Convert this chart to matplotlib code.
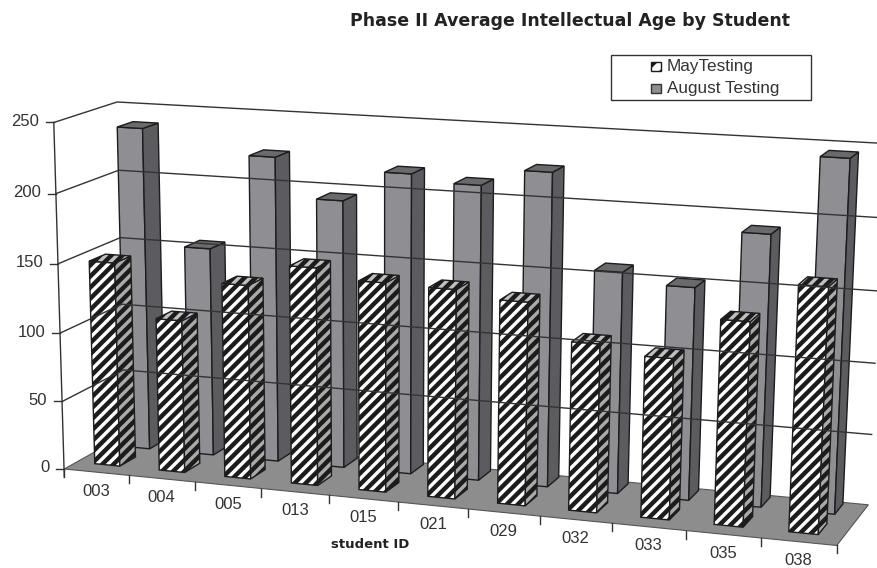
import numpy as np
import matplotlib
matplotlib.use("Agg")
import matplotlib.pyplot as plt
from matplotlib.patches import Polygon, Rectangle

plt.rcParams['font.family'] = ['Liberation Sans', 'DejaVu Sans']

students = ["003", "004", "005", "013", "015", "021", "029", "032", "033", "035", "038"]
may_testing = [149, 111, 140, 156, 149, 148, 143, 118, 112, 141, 168]
august_testing = [237, 153, 222, 194, 216, 211, 223, 157, 150, 190, 244]
y_ticks = [0, 50, 100, 150, 200, 250]

# picture position of the chart box corners: (across, value, depth) -> (px, py)
calib = [
    ((0, 0, 0), (68, 466)),
    ((0, 250, 0), (51, 122)),
    ((0, 0, 1), (122, 436)),
    ((0, 250, 1), (120, 102)),
    ((1, 0, 0), (837, 544)),
    ((1, 0, 1), (869, 503)),
    ((1, 250, 1), (885, 144)),
    ((6 / 11, 0, 0), (467, 514)),
]


def fit_projection(pairs):
    rows = []
    for (x, y, z), (px, py) in pairs:
        rows.append([x, y, z, 1, 0, 0, 0, 0, -px * x, -px * y, -px * z, -px])
        rows.append([0, 0, 0, 0, x, y, z, 1, -py * x, -py * y, -py * z, -py])
    return np.linalg.svd(np.array(rows, float))[2][-1].reshape(3, 4)


P = fit_projection(calib)


def proj(x, y, z):
    p = P @ np.array([x, y, z, 1.0])
    return p[0] / p[2], p[1] / p[2]


def draw_bar(ax, i, value, z0, z1, front, side, top, hatch=None):
    n = len(students)
    x0 = (i + 0.28) / n
    x1 = (i + 0.67) / n
    faces = [
        ([(x0, 0, z0), (x1, 0, z0), (x1, value, z0), (x0, value, z0)], front),
        ([(x1, 0, z0), (x1, 0, z1), (x1, value, z1), (x1, value, z0)], side),
        ([(x0, value, z0), (x1, value, z0), (x1, value, z1), (x0, value, z1)], top),
    ]
    for pts, color in faces:
        ax.add_patch(Polygon([proj(*p) for p in pts], closed=True, facecolor=color,
                             edgecolor="#1c1c1c", lw=1.0, hatch=hatch))


plt.rcParams['hatch.linewidth'] = 3.2
fig = plt.figure(figsize=(8.77, 5.68), dpi=100)
ax = fig.add_axes([0, 0, 1, 1])
ax.set_xlim(0, 877)
ax.set_ylim(568, 0)
ax.axis("off")

line_col = "#333333"
text_col = "#333333"

# floor
ax.add_patch(Polygon([proj(0, 0, 0), proj(1, 0, 0), proj(1, 0, 1), proj(0, 0, 1)],
                     closed=True, facecolor="#8d8d8d", edgecolor="#555555", lw=0.8))

# gridlines on walls, axis and ticks
for v in y_ticks:
    pts = [proj(0, v, 0), proj(0, v, 1), proj(1, v, 1)]
    if v > 0:
        ax.plot([p[0] for p in pts], [p[1] for p in pts], color=line_col, lw=1.0)
    px, py = proj(0, v, 0)
    ax.plot([px - 8, px], [py, py], color=line_col, lw=1.0)
    ax.text(px - 15, py - 1, str(v), ha="right", va="center", fontsize=12, color=text_col)

a = proj(0, 0, 0)
b = proj(0, 250, 0)
ax.plot([a[0], b[0]], [a[1] + 8, b[1]], color=line_col, lw=1.0)

n = len(students)
for i in range(n + 1):
    px, py = proj(i / n, 0, 0)
    ax.plot([px, px], [py, py + 8], color=line_col, lw=1.0)
for i, s in enumerate(students):
    px, py = proj((i + 0.5) / n, 0, 0)
    ax.text(px, py + 19, s, ha="center", va="center", fontsize=12, color=text_col)

# bars, back row first
for i, v in enumerate(august_testing):
    draw_bar(ax, i, v, 0.7, 0.96, "#8f8f93", "#5c5c60", "#6a6a6c")
for i, v in enumerate(may_testing):
    draw_bar(ax, i, v, 0.2, 0.46, "white", "#aaaaaa", "#c0c0c0", hatch="///")

ax.text(570, 21, "Phase II Average Intellectual Age by Student", ha="center", va="center",
        fontsize=12.5, fontweight="bold", family="DejaVu Sans", color="#222222")
ax.text(370, 545, "student ID", ha="center", va="center", fontsize=9.5,
        fontweight="bold", family="DejaVu Sans", color="#222222")

# legend
ax.add_patch(Rectangle((611, 55), 200, 45, facecolor="white", edgecolor="#333333", lw=1.0))
ax.add_patch(Rectangle((651, 62), 10, 9, facecolor="white", edgecolor="#1c1c1c", lw=1.0, hatch="//"))
ax.add_patch(Rectangle((651, 84), 10, 9, facecolor="#8f8f93", edgecolor="#333333", lw=1.0))
ax.text(667, 66, "MayTesting", ha="left", va="center", fontsize=12.3, color=text_col)
ax.text(667, 88, "August Testing", ha="left", va="center", fontsize=12.3, color=text_col)

fig.savefig("out.png", dpi=100)
